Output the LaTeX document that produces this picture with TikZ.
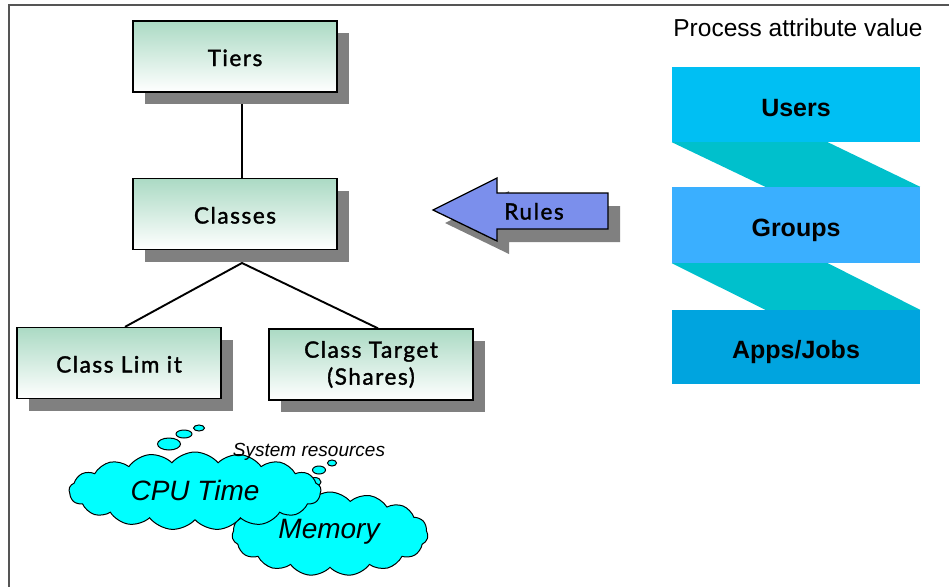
\documentclass[tikz,border=0pt]{standalone}
\usepackage{fontspec}
\setmainfont{Liberation Sans}
\newfontfamily\gill[LetterSpace=7,FakeBold=1.6]{Lato}
\usetikzlibrary{shadows,backgrounds,calc,shapes.symbols,shapes.geometric}
\definecolor{boxtop}{HTML}{ABDAC4}
\definecolor{shadowgray}{HTML}{808080}
\definecolor{rulesblue}{HTML}{7B8FEC}
\definecolor{userscol}{HTML}{00BFF3}
\definecolor{groupscol}{HTML}{3AAFFF}
\definecolor{appscol}{HTML}{00A4DF}
\definecolor{linkcol}{HTML}{00C0CC}
\definecolor{cloudcol}{HTML}{00FFFF}
\definecolor{framecol}{HTML}{555555}
\tikzset{
  greenbox/.style={draw=black, line width=1.3pt, top color=boxtop, bottom color=white,
    minimum width=204pt, minimum height=71pt, align=center, inner sep=0pt,
    font=\gill\fontsize{22.5}{27}\selectfont,
    general shadow={fill=shadowgray, shadow xshift=12pt, shadow yshift=-12pt}},
  oneline/.style={text height=19pt, text depth=0pt},
  connector/.style={line width=1.9pt, black},
  attrbox/.style={minimum width=248pt, inner sep=0pt, text height=23pt, text depth=0pt,
    font=\fontsize{25}{30}\selectfont\bfseries},
  linkband/.style={fill=linkcol},
  cloudshape/.style={cloud, draw=black, line width=1pt, fill=cloudcol, inner sep=0pt},
  bubble/.style={ellipse, draw=black, line width=1pt, fill=cloudcol, inner sep=0pt},
}
\begin{document}
\begin{tikzpicture}[x=1pt,y=-1pt]
\useasboundingbox (0,0) rectangle (949,587);
% frame
\draw[framecol, line width=1.2pt] (949,5) -- (9,5) -- (9,587);

% hierarchy boxes
\node[greenbox, oneline] (tiers) at (235,56.5) {Tiers};
\node[greenbox, oneline] (classes) at (235,214) {Classes};
\node[greenbox, oneline] (limit) at (119,363) {Class Lim it};
\node[greenbox] (target) at (371,364.5) {Class Target\\(Shares)};
\coordinate (apex) at (242,263);
\begin{pgfonlayer}{background}
  \draw[connector] (tiers.south -| apex) -- (classes.north -| apex);
  \draw[connector] ($(limit.north)+(6,0)$) -- (apex) -- ($(target.north)+(7,0)$);
\end{pgfonlayer}

% Rules arrow
\fill[shadowgray] (445,223) -- (509,191) -- (509,206) -- (620,206) -- (620,242) -- (509,242) -- (509,254) -- cycle;
\draw[fill=rulesblue, line width=1.3pt, line join=miter] (433,210) -- (497,178) -- (497,193) -- (608,193) -- (608,229) -- (497,229) -- (497,241) -- cycle;
\node[font=\gill\fontsize{22.5}{27}\selectfont, oneline] (rules) at (534,210) {Rules};

% process attribute value
\node[font=\fontsize{24.5}{30}\selectfont] (pav) at (798,28) {Process attribute value};
\node[attrbox, fill=userscol, minimum height=75pt] (users) at (796,104.5) {Users};
\node[attrbox, fill=groupscol, minimum height=76pt] (groups) at (796,225) {Groups};
\node[attrbox, fill=appscol, minimum height=74pt] (apps) at (796,347) {Apps/Jobs};
\fill[linkband] (users.south west) -- ($(users.south west)+(156,0)$) -- (groups.north east) -- ($(groups.north east)+(-155,0)$) -- cycle;
\fill[linkband] (groups.south west) -- ($(groups.south west)+(156,0)$) -- (apps.north east) -- ($(apps.north east)+(-155,0)$) -- cycle;

% clouds
\node[cloudshape, cloud puffs=15, cloud puff arc=100, minimum width=196pt, minimum height=84pt] (memory) at (330,534) {};
\node[bubble, minimum width=12pt, minimum height=9pt] (mb1) at (315,482) {};
\node[bubble, minimum width=13pt, minimum height=8pt] (mb2) at (319,470) {};
\node[bubble, minimum width=9pt, minimum height=6pt] (mb3) at (332,463) {};
\node[cloudshape, cloud puffs=17, cloud puff arc=100, minimum width=252pt, minimum height=78pt] (cpu) at (195,491) {};
\node[bubble, minimum width=23pt, minimum height=12pt] (cb1) at (169,444) {};
\node[bubble, minimum width=16pt, minimum height=8pt] (cb2) at (184,434) {};
\node[bubble, minimum width=11pt, minimum height=6pt] (cb3) at (199,428) {};
\node[font=\fontsize{28}{32}\selectfont\itshape] (cputext) at (195,490) {CPU Time};
\node[font=\fontsize{28}{32}\selectfont\itshape] (memtext) at (329,532) {Memory};
\node[font=\fontsize{19}{22}\selectfont\itshape] (sysres) at (309,452) {System resources};
\end{tikzpicture}
\end{document}
